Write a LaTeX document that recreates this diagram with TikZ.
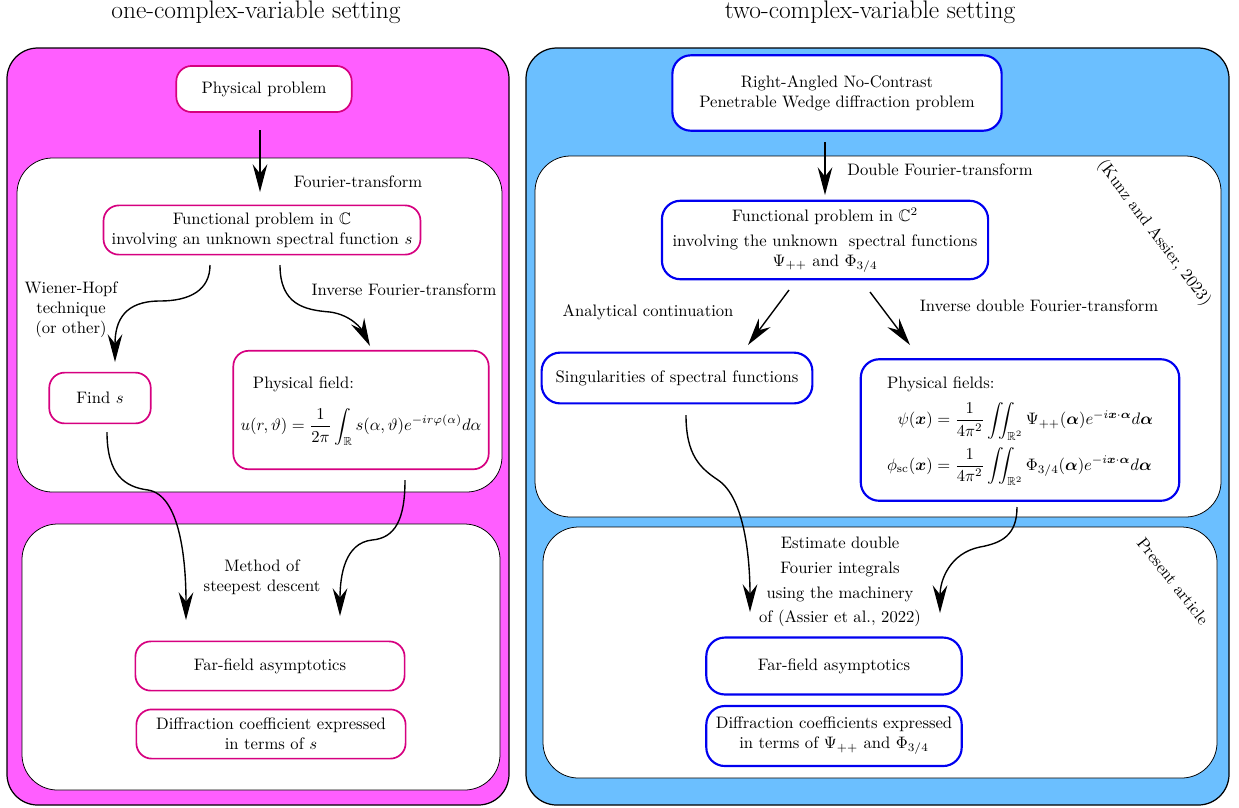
\RequirePackage{fix-cm}
\documentclass[tikz,border=0pt]{standalone}
\usepackage{amsmath,amssymb}
\usetikzlibrary{arrows.meta}
\definecolor{magfill}{RGB}{255,94,255}
\definecolor{magline}{RGB}{214,0,128}
\definecolor{bluefill}{RGB}{107,191,255}
\definecolor{blueline}{RGB}{0,0,240}
\begin{document}
\begin{tikzpicture}[x=0.65pt,y=-0.65pt,
  font=\fontsize{10.8}{13}\selectfont,
  panel/.style={draw=black, line width=0.8pt, rounded corners=20pt},
  innerbox/.style={draw=black, fill=white, line width=0.5pt, rounded corners=23pt},
  mbox/.style={draw=magline, fill=white, line width=1.1pt, rounded corners=10pt, align=center, inner sep=0pt},
  bbox/.style={draw=blueline, fill=white, line width=1.4pt, rounded corners=12pt, align=center, inner sep=0pt},
  arr/.style={-{Stealth[length=18pt,width=9.5pt,inset=6pt]}, line width=0.9pt},
  lbl/.style={align=center, inner sep=0pt},
  ttl/.style={font=\fontsize{16.5}{20}\selectfont, inner sep=0pt},
]
\useasboundingbox (0,0) rectangle (1239,807);

% titles
\node[ttl] (t1) at (256,12) {one-complex-variable setting};
\node[ttl] (t2) at (870,12) {two-complex-variable setting};

% panels
\draw[panel, fill=magfill] (7,48) rectangle (509,805);
\draw[panel, fill=bluefill] (526,48) rectangle (1229,805);
\draw[innerbox] (17,158) rectangle (502,492);
\draw[innerbox] (22,524) rectangle (500,790);
\draw[innerbox] (535,156) rectangle (1221,517);
\draw[innerbox] (543,527) rectangle (1217,778);

% left nodes
\node[mbox, minimum width=114pt, minimum height=30pt] (pp) at (264,89) {Physical problem};
\node[mbox, minimum width=206pt, minimum height=32pt] (fc) at (262,230) {Functional problem in $\mathbb{C}$\\ involving an unknown spectral function $s$};
\node[mbox, minimum width=66pt, minimum height=33pt] (fs) at (100,398) {Find $s$};
\node[mbox, minimum width=166pt, minimum height=77pt] (pf) at (361,410) {\begin{tabular}{@{}l@{}}\hspace{8pt}Physical field:\\[9pt]
$u(r,\vartheta)=\dfrac{1}{2\pi}\displaystyle\int_{\mathbb{R}} s(\alpha,\vartheta)e^{-ir\varphi(\alpha)}d\alpha$\end{tabular}};
\node[mbox, minimum width=175pt, minimum height=32pt] (ffl) at (270,666) {Far-field asymptotics};
\node[mbox, minimum width=175pt, minimum height=32pt] (dcl) at (271,734) {Diffraction coefficient expressed\\ in terms of $s$};

% left labels
\node[lbl] (lft) at (358,182) {Fourier-transform};
\node[lbl] (lwh) at (71,310) {Wiener-Hopf\\ technique\\ (or other)};
\node[lbl] (lift) at (404,290) {Inverse Fourier-transform};
\node[lbl] (lsd) at (262,577) {Method of\\ steepest descent};

% left connector ends
\coordinate (a1s) at (260,130); \coordinate (a1e) at (260,192);
\coordinate (a2s) at (210,265); \coordinate (a2e) at (115,362);
\coordinate (a3s) at (280,265); \coordinate (a3e) at (370,346);
\coordinate (a4s) at (107,432); \coordinate (a4e) at (186,620);
\coordinate (a5s) at (405,480); \coordinate (a5e) at (340,616);

\draw[arr] (a1s) -- (a1e);
\draw[arr] (a2s) .. controls (210,290) and (190,301) .. (160,301) .. controls (125,301) and (115,320) .. (a2e);
\draw[arr] (a3s) .. controls (280,305) and (305,310) .. (330,312) .. controls (352,315) and (362,330) .. (a3e);
\draw[arr] (a4s) .. controls (107,475) and (125,487) .. (148,490) .. controls (180,495) and (186,560) .. (a4e);
\draw[arr] (a5s) .. controls (405,520) and (395,538) .. (372,540) .. controls (345,543) and (340,575) .. (a5e);

% right nodes
\node[bbox, minimum width=214pt, minimum height=49pt] (wp) at (837,93) {Right-Angled No-Contrast\\ Penetrable Wedge diffraction problem};
\node[bbox, minimum width=212pt, minimum height=51pt] (fc2) at (825,240) {Functional problem in $\mathbb{C}^2$\\[3pt] involving the unknown\ \ spectral functions\\ $\Psi_{++}$ and $\Phi_{3/4}$};
\node[bbox, minimum width=176pt, minimum height=33pt] (sg) at (677,378) {Singularities of spectral functions};
\node[bbox, minimum width=207pt, minimum height=92pt] (pfs) at (1020,430) {\begin{tabular}{@{}l@{}}Physical fields:\\[5pt]
$\displaystyle\begin{aligned}\psi(\boldsymbol{x})&=\frac{1}{4\pi^2}\iint_{\mathbb{R}^2}\Psi_{++}(\boldsymbol{\alpha})e^{-i\boldsymbol{x}\cdot\boldsymbol{\alpha}}d\boldsymbol{\alpha}\\[2pt]
\phi_{\mathrm{sc}}(\boldsymbol{x})&=\frac{1}{4\pi^2}\iint_{\mathbb{R}^2}\Phi_{3/4}(\boldsymbol{\alpha})e^{-i\boldsymbol{x}\cdot\boldsymbol{\alpha}}d\boldsymbol{\alpha}\end{aligned}$\end{tabular}};
\node[bbox, minimum width=166pt, minimum height=37pt] (ffr) at (834,666) {Far-field asymptotics};
\node[bbox, minimum width=166pt, minimum height=39pt] (dcr) at (834,736) {Diffraction coefficients expressed\\ in terms of $\Psi_{++}$ and $\Phi_{3/4}$};

% right labels
\node[lbl] (rdf) at (940,170) {Double Fourier-transform};
\node[lbl] (rac) at (648,312) {Analytical continuation};
\node[lbl] (ridf) at (1039,306) {Inverse double Fourier-transform};
\node[lbl, rotate=-53] (rka) at (1154,233) {(Kunz and Assier, 2023)};
\node[lbl, rotate=-52] (rpa) at (1173,581) {Present article};
\node[lbl] (rest) at (840,582) {Estimate double\\[3pt] Fourier\ integrals\\[3pt] using the machinery\\[3pt] of (Assier et al., 2022)};

% right connector ends
\coordinate (b1s) at (825,142); \coordinate (b1e) at (825,195);
\coordinate (b2s) at (789,290); \coordinate (b2e) at (748,345);
\coordinate (b3s) at (870,292); \coordinate (b3e) at (910,345);
\coordinate (b4s) at (686,415); \coordinate (b4e) at (750,612);
\coordinate (b5s) at (1017,507); \coordinate (b5e) at (940,613);

\draw[arr] (b1s) -- (b1e);
\draw[arr] (b2s) -- (b2e);
\draw[arr] (b3s) -- (b3e);
\draw[arr] (b4s) .. controls (686,455) and (700,468) .. (718,480) .. controls (745,498) and (750,560) .. (b4e);
\draw[arr] (b5s) .. controls (1017,535) and (1002,543) .. (980,547) .. controls (950,553) and (940,580) .. (b5e);
\end{tikzpicture}
\end{document}
